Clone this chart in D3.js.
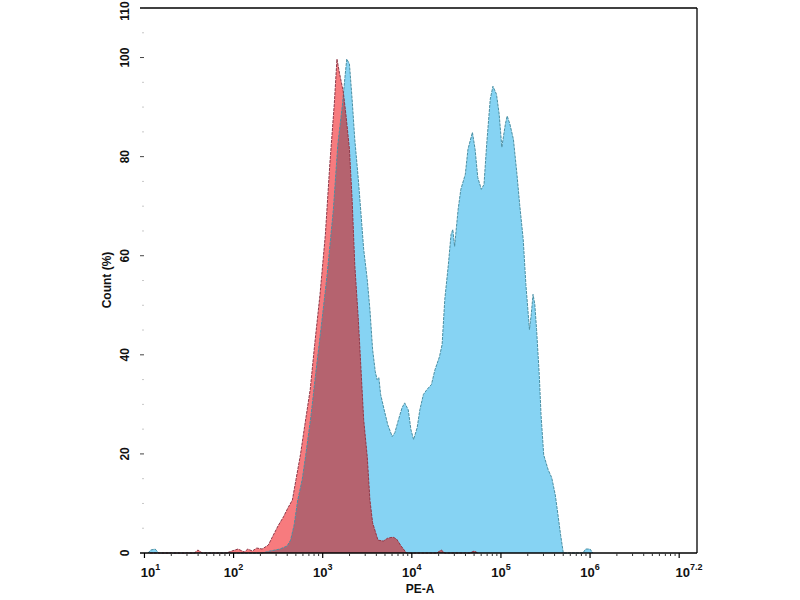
<!DOCTYPE html>
<html>
<head>
<meta charset="utf-8">
<script src="https://cdn.jsdelivr.net/npm/d3@7"></script>
<style>
  html, body { margin: 0; padding: 0; background: #ffffff; }
  svg { display: block; }
  text { font-family: "Liberation Sans", Arial, sans-serif; font-weight: bold; fill: #111; }
</style>
</head>
<body>
<svg id="chart" width="800" height="600"></svg>
<script>
// ---- data (x = log10 PE-A intensity, y = Count %) ----
const redLog = [1.06,1.56,1.60,1.65,1.92,1.98,2.05,2.12,2.16,2.21,2.26,2.32,2.39,2.44,2.50,2.56,2.61,2.66,2.70,2.75,2.80,2.86,2.91,2.97,3.03,3.08,3.13,3.16,3.19,3.23,3.26,3.30,3.33,3.36,3.40,3.43,3.46,3.50,3.53,3.56,3.62,3.68,3.73,3.79,3.83,3.88,3.94,4.28,4.33,4.37,4.65,4.70,4.74];
const redCount = [0,0,0.6,0,0,0.4,0.8,0.2,0.8,0.4,1.0,0.8,1.6,3.4,5.5,7.3,9.1,10.7,14.8,19.8,25.9,33.0,42.1,52.2,64.3,78.5,90.6,99.7,96.7,93.2,88.6,81.5,71.4,58.2,47.1,37.0,26.9,19.4,10.7,6.1,2.6,2.4,3.0,3.2,2.8,1.4,0,0,0.6,0,0,0.4,0];

const blueLog = [1.04,1.07,1.12,1.16,2.32,2.41,2.52,2.60,2.64,2.68,2.72,2.77,2.81,2.87,2.92,2.98,3.05,3.12,3.17,3.22,3.25,3.27,3.30,3.33,3.36,3.40,3.43,3.46,3.50,3.53,3.56,3.59,3.61,3.63,3.65,3.69,3.73,3.78,3.81,3.85,3.89,3.92,3.96,3.99,4.02,4.06,4.09,4.13,4.17,4.22,4.26,4.31,4.34,4.37,4.41,4.44,4.46,4.48,4.52,4.55,4.60,4.63,4.68,4.71,4.74,4.78,4.81,4.84,4.88,4.91,4.95,4.98,5.01,5.05,5.07,5.10,5.14,5.18,5.21,5.25,5.28,5.32,5.34,5.36,5.38,5.40,5.43,5.45,5.48,5.53,5.57,5.61,5.64,5.67,5.70,5.92,5.95,6.00,6.03];
const blueCount = [0,0.6,0.8,0,0,0.4,0.8,1.4,2.6,5.7,10.7,14.8,19.8,27.9,36.0,45.1,56.2,69.4,82.5,90.2,96.1,99.7,98.7,91.6,83.5,75.4,68.4,61.3,55.2,49.1,41.1,36.6,35.0,35.4,32.0,28.9,25.9,23.5,24.3,26.9,29.3,30.3,28.9,24.9,22.9,25.3,28.9,32.0,33.0,34.0,37.0,39.6,42.1,51.2,58.2,64.3,65.3,61.9,69.4,73.4,76.4,81.5,84.9,81.5,75.8,73.4,74.4,82.5,91.6,94.2,92.6,88.6,81.9,86.6,88.2,86.6,83.5,76.4,70.4,63.3,54.2,45.1,48.1,52.2,50.2,45.1,36.0,27.9,19.8,16.8,15.2,11.7,7.7,3.6,0,0,0.8,0.8,0];

const xTickExp = [1,2,3,4,5,6];
const xTickLast = "7.2";
const yTicks = [0,20,40,60,80,100,110];
const xTitle = "PE-A";
const yTitle = "Count (%)";

// ---- layout ----
const svg = d3.select("#chart");
const pL = 140, pR = 697, pT = 8, pB = 553;
const x = d3.scaleLog().domain([Math.pow(10,0.95), Math.pow(10,7.2)]).range([pL, pR]);
const y = d3.scaleLinear().domain([0,110]).range([pB, pT]);

const red = redLog.map((e,i) => ({v: Math.pow(10,e), c: redCount[i]}));
const blue = blueLog.map((e,i) => ({v: Math.pow(10,e), c: blueCount[i]}));

const area = d3.area().x(d => x(d.v)).y0(y(0)).y1(d => y(d.c)).curve(d3.curveLinear);
const line = d3.line().x(d => x(d.v)).y(d => y(d.c)).curve(d3.curveLinear);

const defs = svg.append("defs");
defs.append("clipPath").attr("id","blueClip").append("path").attr("d", area(blue));

svg.append("path").attr("d", area(blue)).attr("fill", "#86d3f3");
svg.append("path").attr("d", area(red)).attr("fill", "#f77b7e");
svg.append("path").attr("d", area(red)).attr("fill", "#b5636f").attr("clip-path","url(#blueClip)");
svg.append("path").attr("d", line(blue)).attr("fill","none").attr("stroke","#4a8fa3").attr("stroke-width",1).attr("stroke-dasharray","3,1");
svg.append("path").attr("d", line(red)).attr("fill","none").attr("stroke","#8e3a4a").attr("stroke-width",1).attr("stroke-dasharray","3,1");

// frame: top, right, bottom
svg.append("line").attr("x1",pL).attr("x2",pR).attr("y1",pT).attr("y2",pT).attr("stroke","#000").attr("stroke-width",1.3);
svg.append("line").attr("x1",pR).attr("x2",pR).attr("y1",pT).attr("y2",pB).attr("stroke","#000").attr("stroke-width",1.3);
svg.append("line").attr("x1",pL).attr("x2",pR).attr("y1",pB).attr("y2",pB).attr("stroke","#000").attr("stroke-width",1.3);

// x ticks (major + minor)
const minor = [];
for (let d = 1; d <= 7; d++) for (let m = 2; m <= 9; m++) {
  const v = m * Math.pow(10,d);
  if (v <= x.domain()[1]) minor.push(v);
}
svg.selectAll(".xminor").data(minor).enter().append("line")
  .attr("x1", d => x(d)).attr("x2", d => x(d)).attr("y1", pB).attr("y2", pB+3)
  .attr("stroke","#333").attr("stroke-width",1);
const majorVals = xTickExp.map(e => Math.pow(10,e)).concat([Math.pow(10,7)]);
svg.selectAll(".xmajor").data(majorVals).enter().append("line")
  .attr("x1", d => x(d)).attr("x2", d => x(d)).attr("y1", pB).attr("y2", pB+5)
  .attr("stroke","#000").attr("stroke-width",1.2);

const labels = xTickExp.map(e => ({v: Math.pow(10,e), sup: String(e)}))
  .concat([{v: Math.pow(10, +xTickLast), sup: xTickLast}]);
labels.forEach((l,i) => {
  const t = svg.append("text").attr("y", 577).attr("font-size", 13).attr("text-anchor","middle")
    .attr("x", i === labels.length-1 ? x(l.v) - 8 : x(l.v) + (i === 0 ? 6 : 0));
  t.append("tspan").text("10");
  t.append("tspan").attr("dy", -7).attr("font-size", 9).text(l.sup);
});

// y ticks
const yMinor = d3.range(0, 111, 5).filter(v => !yTicks.includes(v));
svg.selectAll(".yminor").data(yMinor).enter().append("line")
  .attr("x1", pL+2).attr("x2", pL+4).attr("y1", d => y(d)).attr("y2", d => y(d))
  .attr("stroke","#c8c8c8").attr("stroke-width",1);
svg.selectAll(".ymajor").data(yTicks).enter().append("line")
  .attr("x1", pL).attr("x2", pL+4).attr("y1", d => y(d)).attr("y2", d => y(d))
  .attr("stroke","#444").attr("stroke-width",1);
svg.selectAll(".ylab").data(yTicks).enter().append("text")
  .attr("transform", d => `translate(${129},${Math.max(y(d), 11)}) rotate(-90)`)
  .attr("text-anchor","middle").attr("font-size", 12).text(d => d);

// titles
svg.append("text").attr("transform", `translate(111,${280}) rotate(-90)`)
  .attr("text-anchor","middle").attr("font-size", 12).text(yTitle);
svg.append("text").attr("x", 420).attr("y", 593).attr("text-anchor","middle")
  .attr("font-size", 12).text(xTitle);
</script>
</body>
</html>
